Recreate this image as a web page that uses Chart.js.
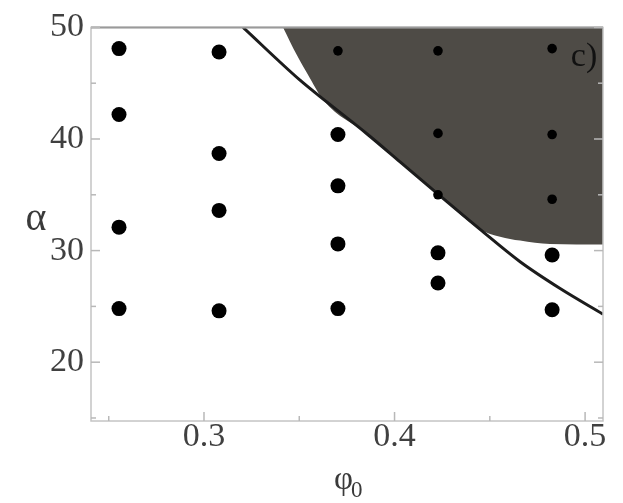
<!DOCTYPE html>
<html>
<head>
<meta charset="utf-8">
<script src="https://cdn.jsdelivr.net/npm/chart.js@4/dist/chart.umd.min.js"></script>
<style>
html,body{margin:0;padding:0;background:#fff;}
#wrap{width:623px;height:503px;}
</style>
</head>
<body>
<div id="wrap"><canvas id="c" width="623" height="503"></canvas></div>
<script>
// ---- data ----
const phiLarge   = [0.2554,0.2554,0.2554,0.2554, 0.3079,0.3079,0.3079,0.3079, 0.3703,0.3703,0.3703,0.3703, 0.4228,0.4228, 0.4827,0.4827];
const alphaLarge = [48.1,42.2,32.1,24.8,          47.8,38.7,33.6,24.6,          40.4,35.8,30.6,24.8,          29.8,27.1,     29.6,24.7];
const phiSmall   = [0.3703, 0.4228,0.4228,0.4228, 0.4827,0.4827,0.4827];
const alphaSmall = [47.9,   47.9,40.5,35.0,       48.1,40.4,34.6];
const curvePhi   = [0.3205,0.3504,0.3646,0.3856,0.4029,0.4239,0.4449,0.4659,0.4869,0.5094];
const curveAlpha = [50.0,45.27,43.3,40.45,37.95,34.9,31.9,29.0,26.6,24.3];
const regionPhi   = [0.3415,0.3488,0.3556,0.3630,0.3856,0.4029,0.4239,0.4449,0.4554,0.4659,0.4816,0.5094];
const regionAlpha = [50.0,47.5,45.45,43.4,40.45,37.95,34.9,31.9,31.25,30.9,30.6,30.55];
const phiTicks = [0.3,0.4,0.5];
const phiTickLabels = ['0.3','0.4','0.5'];
const phiMinor = [0.25,0.35,0.45];
const alphaTicks = [20,30,40,50];
const alphaTickLabels = ['20','30','40','50'];
const alphaMinor = [15,25,35,45];
const phiRange = [0.2407,0.5094];
const alphaRange = [14.73,50];

const pts = (xs, ys) => xs.map((x,i)=>({x:x, y:ys[i]}));

const decor = {
  id:'decor',
  afterDatasetsDraw(chart){
    const ctx = chart.ctx, a = chart.chartArea, xs = chart.scales.x, ys = chart.scales.y;
    ctx.save();
    // frame
    ctx.strokeStyle = '#c4c4c4'; ctx.lineWidth = 1.5;
    ctx.strokeRect(a.left, a.top, a.right-a.left, a.bottom-a.top);
    ctx.strokeStyle = '#9a9a9a'; ctx.lineWidth = 2;
    ctx.beginPath(); ctx.moveTo(a.left, a.top); ctx.lineTo(a.right, a.top); ctx.stroke();
    // inward ticks
    ctx.strokeStyle = '#b8b8b8'; ctx.lineWidth = 1.5;
    const tick = (x1,y1,x2,y2)=>{ctx.beginPath();ctx.moveTo(x1,y1);ctx.lineTo(x2,y2);ctx.stroke();};
    alphaTicks.forEach(v=>{const y=ys.getPixelForValue(v); tick(a.left,y,a.left+9,y); tick(a.right,y,a.right-9,y);});
    alphaMinor.forEach(v=>{const y=ys.getPixelForValue(v); tick(a.left,y,a.left+5,y); tick(a.right,y,a.right-5,y);});
    phiTicks.forEach(v=>{const x=xs.getPixelForValue(v); tick(x,a.bottom,x,a.bottom-9);});
    phiMinor.forEach(v=>{const x=xs.getPixelForValue(v); if(x>a.left) tick(x,a.bottom,x,a.bottom-5);});
    // panel label
    ctx.fillStyle = '#111';
    ctx.font = '34px "Liberation Serif", serif';
    ctx.textAlign = 'center'; ctx.textBaseline = 'middle';
    ctx.fillText('c)', a.right-19, a.top+30);
    // y title (upright alpha)
    ctx.fillStyle = '#3a3a3a';
    ctx.font = '40px "Liberation Serif", serif';
    ctx.fillText('α', a.left-55, (a.top+a.bottom)/2-5);
    // x title phi_0
    const cx = (a.left+a.right)/2;
    ctx.font = '33px "Liberation Serif", serif';
    ctx.textAlign = 'right';
    ctx.fillText('φ', cx+6, 480);
    ctx.font = '23px "Liberation Serif", serif';
    ctx.textAlign = 'left';
    ctx.fillText('0', cx+4, 491);
    ctx.restore();
  }
};

new Chart(document.getElementById('c'), {
  type:'scatter',
  data:{
    datasets:[
      {label:'stable', data:pts(phiLarge,alphaLarge), pointRadius:7.5, pointBackgroundColor:'#000', pointBorderWidth:0, order:0},
      {label:'unstable', data:pts(phiSmall,alphaSmall), pointRadius:4.8, pointBackgroundColor:'#000', pointBorderWidth:0, order:1},
      {label:'boundary', data:pts(curvePhi,curveAlpha), showLine:true, pointRadius:0, borderColor:'#1c1c1c', borderWidth:3, cubicInterpolationMode:'monotone', fill:false, order:2},
      {label:'region', data:pts(regionPhi,regionAlpha), showLine:true, pointRadius:0, borderWidth:0, borderColor:'rgba(0,0,0,0)', backgroundColor:'#4e4b46', cubicInterpolationMode:'monotone', fill:'end', order:3}
    ]
  },
  options:{
    responsive:false, animation:false, devicePixelRatio:1,
    layout:{padding:{top:27,right:20,left:0,bottom:0}},
    plugins:{legend:{display:false}, tooltip:{enabled:false}},
    scales:{
      x:{type:'linear', min:phiRange[0], max:phiRange[1],
         grid:{display:false, drawTicks:false}, border:{display:false},
         afterBuildTicks:s=>{s.ticks = phiTicks.map(v=>({value:v}));},
         afterFit:s=>{s.height = 82;},
         ticks:{padding:-4, color:'#404040', font:{family:'"Liberation Serif", serif', size:34},
                callback:(v)=>phiTickLabels[phiTicks.indexOf(v)] ?? ''}},
      y:{type:'linear', min:alphaRange[0], max:alphaRange[1],
         grid:{display:false, drawTicks:false}, border:{display:false},
         afterBuildTicks:s=>{s.ticks = alphaTicks.map(v=>({value:v}));},
         afterFit:s=>{s.width = 91;},
         ticks:{padding:7, color:'#404040', font:{family:'"Liberation Serif", serif', size:34},
                callback:(v)=>alphaTickLabels[alphaTicks.indexOf(v)] ?? ''}}
    }
  },
  plugins:[decor]
});
</script>
</body>
</html>
